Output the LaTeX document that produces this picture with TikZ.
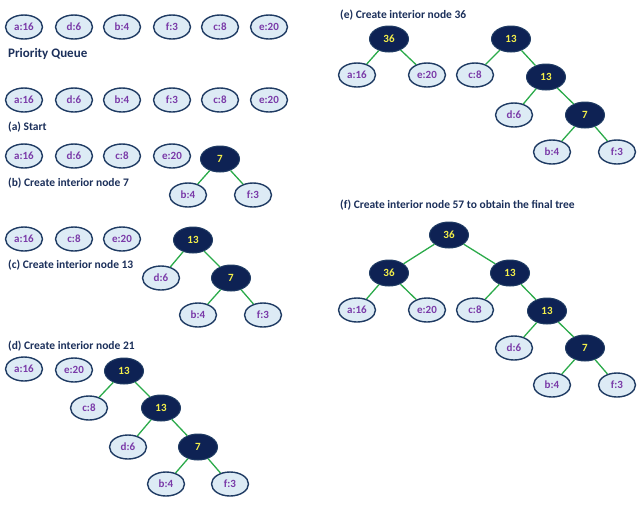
\documentclass[tikz,border=0pt]{standalone}
\usepackage{fontspec}
\setmainfont{Carlito}
\usepackage{tikz}
\usetikzlibrary{shapes, positioning}

\definecolor{leaffill}{HTML}{DDEBF5}
\definecolor{navy}{HTML}{1F3B63}
\definecolor{darknode}{HTML}{0E2254}
\definecolor{leaftext}{HTML}{7A3AA8}
\definecolor{innertext}{HTML}{F5F04A}
\definecolor{edgegreen}{HTML}{2BAA4A}
\definecolor{captext}{HTML}{1B2F5A}

\begin{document}
\begin{tikzpicture}[x=1pt, y=-1pt]

\tikzstyle{leaf} = [ellipse, minimum width=37pt, minimum height=24pt, inner sep=0pt, fill=leaffill, draw=navy, line width=1.4pt, text=leaftext, font=\fontsize{11}{12}\selectfont\bfseries]
\tikzstyle{inner} = [ellipse, minimum width=39pt, minimum height=26pt, inner sep=0pt, fill=darknode, draw=navy, line width=1pt, text=innertext, font=\fontsize{11}{12}\selectfont\bfseries]
\tikzstyle{edge} = [draw=edgegreen, line width=1.3pt]
\tikzstyle{caption} = [anchor=west, inner sep=0pt, text=captext, font=\fontsize{11.5}{13}\selectfont\bfseries]

\useasboundingbox (0,0) rectangle (640,504);

% Priority queue
\node (qa) [leaf] at (24, 27) {a:16};
\node (qd) [leaf] at (74, 27) {d:6};
\node (qb) [leaf] at (122, 27) {b:4};
\node (qf) [leaf] at (172, 27) {f:3};
\node (qc) [leaf] at (220, 27) {c:8};
\node (qe) [leaf] at (269, 27) {e:20};
\node (capq) [caption, font=\fontsize{13}{14}\selectfont\bfseries] at (8, 54) {Priority Queue};

% (a)
\node (aa) [leaf] at (24, 100) {a:16};
\node (ad) [leaf] at (74, 100) {d:6};
\node (ab) [leaf] at (122, 100) {b:4};
\node (af) [leaf] at (172, 100) {f:3};
\node (ac) [leaf] at (220, 100) {c:8};
\node (ae) [leaf] at (269, 100) {e:20};
\node (capa) [caption] at (8, 127) {(a) Start};

% (b)
\node (ba) [leaf] at (24, 156) {a:16};
\node (bd) [leaf] at (74, 156) {d:6};
\node (bc) [leaf] at (122, 156) {c:8};
\node (be) [leaf] at (172, 156) {e:20};
\node (b7) [inner] at (220, 159) {7};
\node (bb) [leaf] at (188, 195) {b:4};
\node (bf) [leaf] at (253, 195) {f:3};
\node (capb) [caption] at (8, 183) {(b) Create interior node 7};

% (c)
\node (ca) [leaf] at (24, 239) {a:16};
\node (cc) [leaf] at (74, 239) {c:8};
\node (ce) [leaf] at (122, 239) {e:20};
\node (c13) [inner] at (193, 240) {13};
\node (cd) [leaf] at (161, 278) {d:6};
\node (c7) [inner] at (231, 278) {7};
\node (cb) [leaf] at (198, 315) {b:4};
\node (cf) [leaf] at (263, 315) {f:3};
\node (capc) [caption] at (8, 265) {(c) Create interior node 13};

% (d)
\node (capd) [caption] at (8, 346) {(d) Create interior node 21};
\node (da) [leaf] at (24, 369) {a:16};
\node (de) [leaf] at (74, 370) {e:20};
\node (d21) [inner] at (124, 371) {13};
\node (dc) [leaf] at (89, 408) {c:8};
\node (d13) [inner] at (161, 408) {13};
\node (dd) [leaf] at (128, 447) {d:6};
\node (d7) [inner] at (198, 447) {7};
\node (db) [leaf] at (166, 484) {b:4};
\node (df) [leaf] at (230, 484) {f:3};

% (e)
\node (cape) [caption] at (340, 15) {(e) Create interior node 36};
\node (e36) [inner] at (389, 39) {36};
\node (ea) [leaf] at (357, 75) {a:16};
\node (ee) [leaf] at (427, 75) {e:20};
\node (e21) [inner] at (511, 39) {13};
\node (ec) [leaf] at (475, 75) {c:8};
\node (e13) [inner] at (546, 77) {13};
\node (ed) [leaf] at (514, 115) {d:6};
\node (e7) [inner] at (585, 115) {7};
\node (eb) [leaf] at (552, 152) {b:4};
\node (ef) [leaf] at (617, 152) {f:3};

% (f)
\node (capf) [caption] at (340, 205) {(f) Create interior node 57 to obtain the final tree};
\node (f57) [inner] at (449, 235) {36};
\node (f36) [inner] at (389, 273) {36};
\node (f21) [inner] at (510, 273) {13};
\node (fa) [leaf] at (357, 310) {a:16};
\node (fe) [leaf] at (427, 310) {e:20};
\node (fc) [leaf] at (475, 310) {c:8};
\node (f13) [inner] at (547, 311) {13};
\node (fd) [leaf] at (514, 348) {d:6};
\node (f7) [inner] at (585, 348) {7};
\node (fb) [leaf] at (552, 385) {b:4};
\node (ff) [leaf] at (617, 385) {f:3};

% Connect nodes
\draw[edge] (b7) -- (bb);
\draw[edge] (b7) -- (bf);

\draw[edge] (c13) -- (cd);
\draw[edge] (c13) -- (c7);
\draw[edge] (c7) -- (cb);
\draw[edge] (c7) -- (cf);

\draw[edge] (d21) -- (dc);
\draw[edge] (d21) -- (d13);
\draw[edge] (d13) -- (dd);
\draw[edge] (d13) -- (d7);
\draw[edge] (d7) -- (db);
\draw[edge] (d7) -- (df);

\draw[edge] (e36) -- (ea);
\draw[edge] (e36) -- (ee);
\draw[edge] (e21) -- (ec);
\draw[edge] (e21) -- (e13);
\draw[edge] (e13) -- (ed);
\draw[edge] (e13) -- (e7);
\draw[edge] (e7) -- (eb);
\draw[edge] (e7) -- (ef);

\draw[edge] (f57) -- (f36);
\draw[edge] (f57) -- (f21);
\draw[edge] (f36) -- (fa);
\draw[edge] (f36) -- (fe);
\draw[edge] (f21) -- (fc);
\draw[edge] (f21) -- (f13);
\draw[edge] (f13) -- (fd);
\draw[edge] (f13) -- (f7);
\draw[edge] (f7) -- (fb);
\draw[edge] (f7) -- (ff);

\end{tikzpicture}
\end{document}
